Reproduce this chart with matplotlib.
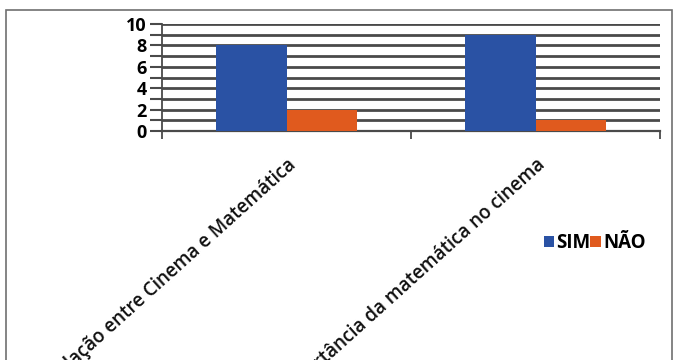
import matplotlib
matplotlib.use("Agg")
import matplotlib.pyplot as plt
import numpy as np
from matplotlib.patches import Rectangle

categories = ["Relação entre Cinema e Matemática", "Importância da matemática no cinema"]
series_names = ["SIM", "NÃO"]
sim_values = [8, 9]
nao_values = [2, 1]
yticks = [0, 2, 4, 6, 8, 10]

colors = ["#2a52a4", "#e05a1e"]
grid_color = "#4a4a4a"
font = "Open Sans"

fig = plt.figure(figsize=(6.81, 3.60), dpi=100)
fig.patch.set_facecolor("white")
ax = fig.add_axes([162/681, 1-131/360, 498/681, 107/360])

x = np.arange(len(categories))
w = 0.285
ax.bar(x - w/2, sim_values, width=w, color=colors[0], label=series_names[0], zorder=3)
ax.bar(x + w/2, nao_values, width=w, color=colors[1], label=series_names[1], zorder=3)

ax.set_xlim(-0.5, len(categories) - 0.5)
ax.set_ylim(0, 10)
for v in range(0, 11):
    ax.axhline(v, color=grid_color, lw=2.0, zorder=1)

ax.set_yticks(yticks)
ax.set_yticklabels([str(t) for t in yticks], fontfamily=font, fontweight="bold", fontsize=13)
ax.set_yticks(range(0, 11), minor=True)
ax.tick_params(axis="y", which="both", length=8.5, width=1.5, color=grid_color, pad=2.5)

ax.set_xticks([-0.5, 0.5, 1.5])
ax.set_xticklabels([])
ax.tick_params(axis="x", length=6, width=1.3, color=grid_color)
ax.set_xticks(x, minor=True)
ax.set_xticklabels(categories, minor=True, rotation=42, ha="right", va="top",
                   rotation_mode="anchor", fontfamily=font, fontweight="semibold", fontsize=13.5,
                   color="#111111")
ax.tick_params(axis="x", which="minor", length=0, pad=17)

for s in ["top", "right"]:
    ax.spines[s].set_visible(False)
ax.spines["left"].set_color(grid_color)
ax.spines["bottom"].set_color(grid_color)
ax.spines["left"].set_linewidth(1.3)
ax.spines["bottom"].set_linewidth(1.6)
ax.set_facecolor("white")

leg = fig.legend(loc="center left", bbox_to_anchor=(540/681, 1-243/360), ncol=2, frameon=False,
                 handlelength=0.55, handleheight=0.55, handletextpad=0.12, columnspacing=0.0,
                 borderaxespad=0, borderpad=0.2,
                 prop={"family": font, "weight": "bold", "size": 13.5})

frame = Rectangle((6/681, -0.05), (672-6)/681, (1-10/360)+0.05, transform=fig.transFigure,
                  fill=False, edgecolor="#707070", lw=1.2, clip_on=False)
fig.patches.append(frame)

fig.savefig("out.png", dpi=100)
